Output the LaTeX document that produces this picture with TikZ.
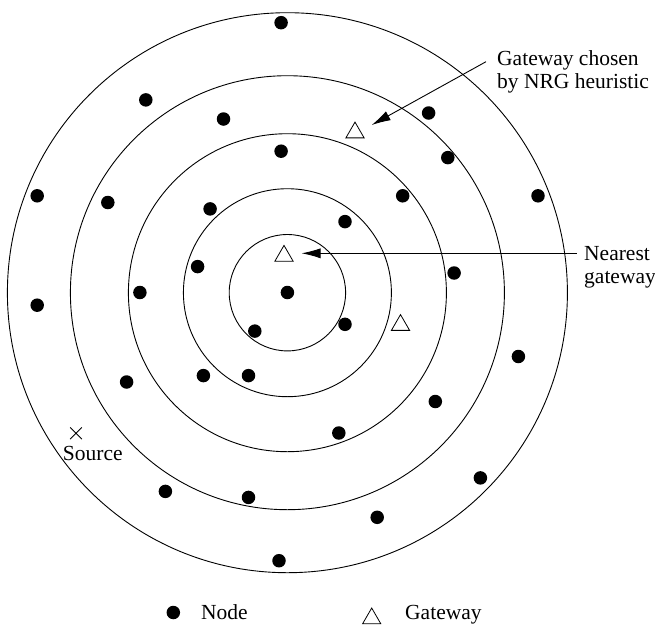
\documentclass[tikz,border=0pt]{standalone}
\usepackage{fontspec}
\setmainfont{Liberation Serif}
\usetikzlibrary{arrows.meta,shapes.geometric,shapes.misc}
\begin{document}
\begin{tikzpicture}[x=1pt,y=-1pt,
  every node/.style={font=\fontsize{21.5}{23.3}\selectfont},
  ring/.style={draw=black,line width=0.9pt},
  dot/.style={circle,fill=black,inner sep=0pt,minimum size=13.5pt},
  gw/.style={regular polygon,regular polygon sides=3,draw=black,line width=0.8pt,
             inner sep=0pt,minimum size=21pt},
  src/.style={cross out,draw=black,line width=0.8pt,inner sep=0pt,minimum size=11pt},
  label/.style={inner sep=0pt,anchor=base west,align=left},
  pointer/.style={line width=0.9pt,-{Latex[length=19pt,width=10pt]}}]
\useasboundingbox (0,0) rectangle (655,624);

% concentric hop rings around the centre
\coordinate (c) at (287.4,292.7);
\foreach \r in {58.2,104,159,217,280}
  \draw[ring] (c) circle[radius=\r];

% ordinary nodes
\node[dot] (n1)  at (281.1,22.7) {};
\node[dot] (n2)  at (145.8,99.9) {};
\node[dot] (n3)  at (223.5,119) {};
\node[dot] (n4)  at (428.6,113) {};
\node[dot] (n5)  at (447.8,157.6) {};
\node[dot] (n6)  at (281.1,151.2) {};
\node[dot] (n7)  at (37.2,195.8) {};
\node[dot] (n8)  at (107.8,202.5) {};
\node[dot] (n9)  at (402.7,195.8) {};
\node[dot] (n10) at (538,195.8) {};
\node[dot] (n11) at (210.1,208.9) {};
\node[dot] (n12) at (345,221.6) {};
\node[dot] (n13) at (197.6,266.6) {};
\node[dot] (n14) at (454.1,273) {};
\node[dot] (n15) at (139.9,292.5) {};
\node[dot] (n16) at (287.4,292.5) {};
\node[dot] (n17) at (37.2,305.2) {};
\node[dot] (n18) at (254.8,331.1) {};
\node[dot] (n19) at (345,324.3) {};
\node[dot] (n20) at (518.4,356.5) {};
\node[dot] (n21) at (126.6,382) {};
\node[dot] (n22) at (203.4,375.6) {};
\node[dot] (n23) at (248.5,375.6) {};
\node[dot] (n24) at (435.3,401.5) {};
\node[dot] (n25) at (338.8,433) {};
\node[dot] (n26) at (480.4,477.9) {};
\node[dot] (n27) at (165.4,491.4) {};
\node[dot] (n28) at (248.5,497.4) {};
\node[dot] (n29) at (377.2,517.3) {};
\node[dot] (n30) at (279,560.7) {};

% gateways
\node[gw] (g1) at (355,132.6) {};
\node[gw] (g2) at (284,255.9) {};
\node[gw] (g3) at (400.5,325.1) {};

% source
\node[src] (s) at (76,433.3) {};
\node[label] (stext) at (62.7,460) {Source};

% annotations (base anchor sits on the last line)
\node[label] (t1) at (497,88.3) {Gateway chosen\\by NRG heuristic};
\node[label] (t2) at (584,283.5) {Nearest\\gateway};
\coordinate (a1s) at (486,61.7);
\coordinate (a1e) at (371.7,125);
\coordinate (a2s) at (576.7,253.3);
\coordinate (a2e) at (301.5,253.3);
\draw[pointer] (a1s) -- (a1e);
\draw[pointer] (a2s) -- (a2e);

% legend
\node[dot] (ldot) at (173.3,612.5) {};
\node[label] (lnode) at (201,619) {Node};
\node[gw] (lgw) at (371.7,618.5) {};
\node[label] (lgate) at (405,619) {Gateway};
\end{tikzpicture}
\end{document}
